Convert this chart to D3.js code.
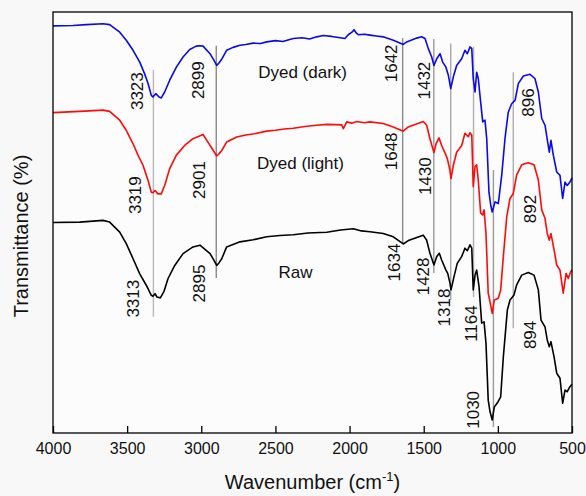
<!DOCTYPE html>
<html>
<head>
<meta charset="utf-8">
<script src="https://cdn.jsdelivr.net/npm/d3@7"></script>
<style>
  html, body { margin: 0; padding: 0; background: #f8f8f8; }
  svg { display: block; }
  text { font-family: Arial, "Liberation Sans", sans-serif; fill: #111; }
</style>
</head>
<body>
<svg id="chart" width="586" height="496"></svg>
<script>
// ---- data (wavenumber cm^-1, transmittance in arbitrary stacked units) ----
const xTicks = [4000, 3500, 3000, 2500, 2000, 1500, 1000, 500];

const darkW = [4000,3865,3775,3663,3618,3550,3506,3460,3415,3382,3359,3337,3326,3307,3285,3270,3247,3213,3168,3123,3078,3034,3009,2988,2941,2919,2896,2881,2862,2829,2786,2739,2700,2650,2600,2559,2500,2450,2380,2320,2270,2222,2177,2120,2065,2031,2009,1984,1970,1952,1941,1900,1862,1820,1773,1705,1638,1615,1547,1514,1491,1469,1446,1431,1412,1390,1372,1350,1334,1318,1300,1278,1244,1222,1206,1188,1176,1166,1154,1143,1132,1116,1102,1087,1075,1060,1048,1038,1019,997,974,952,930,907,884,862,828,783,750,727,704,682,664,653,642,626,603,581,563,547,532,514,500];
const darkT = [96.7,96.8,97.0,97.2,97.0,95.2,93.3,90.9,88.1,85.3,83.0,80.2,79.8,80.6,79.8,79.6,81.0,83.8,86.9,89.3,91.1,91.9,92.0,91.9,90.1,88.8,87.3,87.9,88.8,90.9,91.6,92.1,92.3,92.6,92.5,92.9,93.2,93.0,93.7,93.9,93.6,94.1,94.4,94.2,93.9,93.7,94.6,95.2,95.8,94.9,94.6,94.7,94.5,94.3,94.1,93.3,92.3,92.9,93.8,94.1,93.7,91.3,89.3,87.3,88.9,90.1,88.1,86.9,85.0,81.8,84.6,87.3,88.9,90.9,90.1,91.7,91.3,84.2,81.0,85.7,84.2,78.6,73.9,74.3,69.9,57.2,54.1,52.5,54.9,54.5,61.2,69.9,76.2,78.2,79.0,83.0,84.8,85.2,84.2,81.0,74.7,73.1,69.1,66.7,69.5,66.0,62.0,61.2,55.7,59.6,58.8,59.6,60.6];

const lightW = [4000,3820,3663,3618,3550,3506,3460,3427,3393,3359,3337,3326,3312,3292,3270,3247,3213,3168,3112,3056,2988,2963,2919,2896,2881,2862,2829,2761,2700,2640,2559,2500,2440,2380,2300,2222,2150,2053,2042,2019,1985,1952,1900,1862,1773,1705,1638,1604,1503,1480,1458,1431,1417,1397,1379,1350,1341,1323,1316,1300,1278,1244,1222,1199,1188,1176,1166,1154,1143,1132,1116,1102,1093,1080,1065,1053,1038,1024,997,981,963,940,918,896,873,839,795,756,727,704,682,667,653,642,621,603,581,559,540,525,509,500];
const lightT = [76.1,76.4,76.7,76.4,74.3,71.9,68.7,66.0,63.6,60.0,57.2,57.1,57.6,56.8,56.8,58.8,62.8,66.0,68.3,69.9,70.9,69.5,67.1,65.8,66.3,67.1,69.1,70.3,70.8,71.1,71.7,71.9,72.2,72.4,72.8,73.1,73.3,73.2,72.3,73.9,73.6,74.0,73.7,73.9,73.5,72.7,71.7,72.7,74.0,73.1,69.9,66.6,68.7,70.1,68.3,66.0,65.2,62.4,60.4,63.6,66.7,68.3,71.2,70.4,71.3,70.8,58.5,63.3,63.7,60.1,52.2,51.8,53.0,47.4,33.2,31.2,28.4,31.6,32.0,34.0,41.9,51.4,55.7,56.9,61.3,63.7,64.2,63.7,60.1,53.0,51.0,47.4,45.8,47.4,43.5,39.9,38.7,33.2,37.9,36.7,38.3,38.7];

const rawW = [4000,3820,3663,3618,3550,3506,3460,3415,3371,3337,3326,3312,3299,3276,3253,3224,3179,3123,3056,3009,2941,2919,2896,2881,2862,2829,2739,2650,2559,2470,2380,2280,2154,2060,1975,1920,1862,1773,1705,1638,1604,1503,1480,1458,1431,1412,1395,1379,1350,1338,1323,1316,1296,1274,1244,1222,1206,1188,1176,1166,1154,1143,1127,1109,1093,1080,1065,1053,1038,1024,1004,981,963,936,918,891,873,839,795,756,727,709,682,667,653,642,621,603,581,563,547,532,514,500];
const rawT = [50.0,50.1,50.5,50.1,47.7,45.0,41.4,37.8,35.1,32.7,32.5,33.1,32.3,32.1,33.5,36.7,39.8,42.6,44.2,44.6,42.6,41.3,39.8,40.4,41.4,44.2,45.4,45.9,46.6,46.9,47.1,47.5,47.7,48.2,48.5,48.0,47.8,47.4,46.6,44.9,45.7,47.0,45.8,42.7,39.9,41.9,42.7,41.1,38.7,37.9,35.6,34.0,37.1,40.3,41.9,43.9,43.3,44.7,43.9,34.0,37.5,38.7,34.8,26.1,26.4,21.3,7.8,5.1,3.1,6.2,7.1,8.6,18.1,29.2,31.6,32.8,35.2,37.5,38.1,37.5,34.0,26.8,25.2,22.1,20.5,21.7,18.1,14.2,13.0,7.1,10.2,9.8,11.0,11.6];

// band marker lines: wavenumber and top/bottom in transmittance units
const markerW    = [3323, 2899, 1642, 1432, 1318, 1164, 1030, 896];
const markerTop  = [86.2, 92.0, 93.8, 93.6, 92.5, 91.7, 62.5, 85.7];
const markerBot  = [27.6, 36.8, 45.1, 38.0, 31.6, 32.3, 1.4, 24.9];
const markerTone = ["#b8b8b8", "#8a8a8a", "#8a8a8a", "#9a9a9a", "#a8a8a8", "#b0b0b0", "#9a9a9a", "#b0b0b0"];

// band labels (text, anchor wavenumber, anchor transmittance)
const bandText = ["3323","2899","3319","2901","3313","2895","1642","1432","1648","1430","896","892","1634","1428","1318","1164","1030","894"];
const bandW    = [3430, 3022, 3447, 3015, 3454, 3009, 1714, 1498, 1714, 1491, 790, 783, 1694, 1501, 1363, 1178, 1166, 783];
const bandT    = [81.2, 83.8, 56.5, 60.1, 31.9, 35.5, 87.8, 83.7, 66.9, 61.0, 78.5, 53.2, 40.5, 37.2, 29.8, 26.0, 5.5, 23.3];

const seriesNames = ["Dyed (dark)", "Dyed (light)", "Raw"];
const seriesColors = ["#0a0ae6", "#ff0a0a", "#000000"];
const nameW = [2317, 2331, 2365];
const nameT = [85.7, 64.1, 38.2];

// ---- layout ----
const W = 586, H = 496;
const margin = {left: 53, top: 12, right: 14, bottom: 63};
const svg = d3.select("#chart");
const iw = W - margin.left - margin.right;
const ih = H - margin.top - margin.bottom;

const x = d3.scaleLinear().domain([4000, 500]).range([margin.left, margin.left + iw]);
const y = d3.scaleLinear().domain([0, 100]).range([margin.top + ih, margin.top]);

svg.append("rect").attr("x", margin.left).attr("y", margin.top)
  .attr("width", iw).attr("height", ih).attr("fill", "#fcfcfc");

// marker lines
svg.append("g").selectAll("line").data(markerW).join("line")
  .attr("x1", d => x(d)).attr("x2", d => x(d))
  .attr("y1", (d, i) => y(markerTop[i])).attr("y2", (d, i) => y(markerBot[i]))
  .attr("stroke", (d, i) => markerTone[i]).attr("stroke-width", 1.4);

// curves
const line = d3.line().x(d => x(d[0])).y(d => y(d[1]));
const series = [
  d3.zip(darkW, darkT),
  d3.zip(lightW, lightT),
  d3.zip(rawW, rawT)
];
svg.append("g").selectAll("path").data(series).join("path")
  .attr("d", line).attr("fill", "none")
  .attr("stroke", (d, i) => seriesColors[i]).attr("stroke-width", 1.6)
  .attr("stroke-linejoin", "round");

// band labels (rotated)
svg.append("g").selectAll("text").data(bandText).join("text")
  .attr("transform", (d, i) => `translate(${x(bandW[i])},${y(bandT[i])}) rotate(-90)`)
  .attr("text-anchor", "middle").attr("dominant-baseline", "central")
  .style("font-size", "17px").text(d => d);

// series names
svg.append("g").selectAll("text").data(seriesNames).join("text")
  .attr("x", (d, i) => x(nameW[i])).attr("y", (d, i) => y(nameT[i]))
  .attr("text-anchor", "middle").attr("dominant-baseline", "central")
  .style("font-size", "17px").text(d => d);

// x axis
const xAxis = d3.axisBottom(x).tickValues(xTicks).tickFormat(d3.format("d"))
  .tickSizeInner(-7).tickSizeOuter(0).tickPadding(10);
const gx = svg.append("g").attr("transform", `translate(0,${margin.top + ih})`).call(xAxis);
gx.select(".domain").remove();
gx.selectAll("line").attr("stroke", "#000").attr("stroke-width", 1.3);
gx.selectAll("text").style("font-size", "16px").attr("fill", "#111")
  .style("font-family", 'Arial, "Liberation Sans", sans-serif');

// frame
svg.append("rect").attr("x", margin.left).attr("y", margin.top)
  .attr("width", iw).attr("height", ih).attr("fill", "none")
  .attr("stroke", "#000").attr("stroke-width", 1.3);

// axis titles
const xt = svg.append("text").attr("x", margin.left + iw / 2).attr("y", 489)
  .attr("text-anchor", "middle").style("font-size", "20px");
xt.append("tspan").text("Wavenumber (cm");
xt.append("tspan").attr("dy", -8).style("font-size", "13px").text("-1");
xt.append("tspan").attr("dy", 8).text(")");

svg.append("text").attr("transform", "translate(28,236) rotate(-90)")
  .attr("text-anchor", "middle").style("font-size", "20px").text("Transmittance (%)");
</script>
</body>
</html>
